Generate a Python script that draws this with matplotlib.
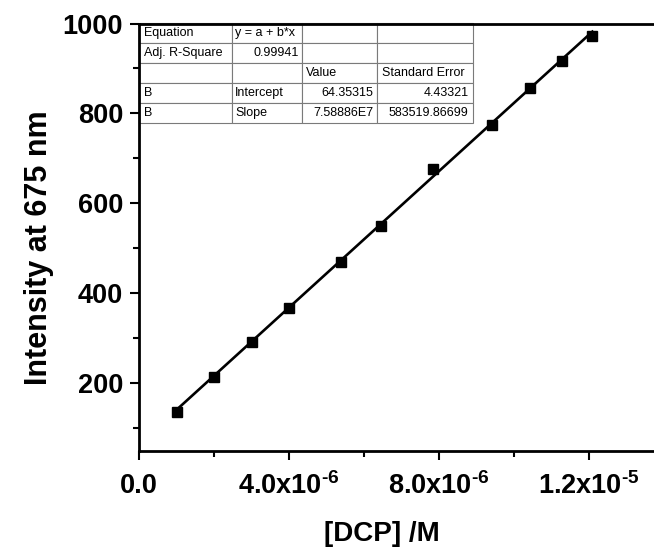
import matplotlib
matplotlib.use("Agg")
import matplotlib.pyplot as plt
from matplotlib.ticker import FixedLocator, MultipleLocator, FixedFormatter
import numpy as np

# DCP concentration (M) and emission intensity at 675 nm
conc = np.array([1.0, 2.0, 3.0, 4.0, 5.39, 6.45, 7.85, 9.42, 10.43, 11.27, 12.09]) * 1e-6
intensity = np.array([135.6, 214.0, 290.4, 366.0, 468.9, 550.4, 676.0, 775.0,
                      856.0, 917.0, 971.8])

# linear fit results as reported
intercept = 64.35315
slope = 7.58886e7

xticks = [0.0, 4.0e-6, 8.0e-6, 1.2e-5]
xticklabels = ["0.0", r"4.0x10$^{\text{-6}}$", r"8.0x10$^{\text{-6}}$",
               r"1.2x10$^{\text{-5}}$"]
yticks = [200, 400, 600, 800, 1000]

fit_table = [
    ["Equation", "y = a + b*x", "", ""],
    ["Adj. R-Square", "0.99941", "", ""],
    ["", "", "Value", "Standard Error"],
    ["B", "Intercept", "64.35315", "4.43321"],
    ["B", "Slope", "7.58886E7", "583519.86699"],
]
# alignment per cell: l = left, r = right
fit_align = [
    "llll",
    "lrll",
    "llll",
    "llrr",
    "llrr",
]

plt.rcParams["font.family"] = ["Liberation Sans", "DejaVu Sans"]
plt.rcParams["mathtext.fontset"] = "custom"
plt.rcParams["mathtext.rm"] = "Liberation Sans:bold"
plt.rcParams["mathtext.bf"] = "Liberation Sans:bold"

W, H = 654, 560
fig = plt.figure(figsize=(W / 100, H / 100), dpi=100)
ax_l, ax_r, ax_t, ax_b = 139, 665, 23.5, 451
ax = fig.add_axes([ax_l / W, 1 - ax_b / H, (ax_r - ax_l) / W, (ax_b - ax_t) / H])

xfit = np.array([conc.min(), conc.max()])
ax.plot(xfit, intercept + slope * xfit, color="black", lw=1.9, zorder=2)
ax.plot(conc, intensity, "s", color="black", ms=6.8, zorder=3, clip_on=False)

ax.set_xlim(0, (ax_r - ax_l) / 37.5 * 1e-6)
ax.set_ylim(48.7, 1000)

ax.xaxis.set_major_locator(FixedLocator(xticks))
ax.xaxis.set_major_formatter(FixedFormatter(xticklabels))
ax.xaxis.set_minor_locator(MultipleLocator(2e-6))
ax.yaxis.set_major_locator(FixedLocator(yticks))
ax.yaxis.set_minor_locator(MultipleLocator(100))

for side in ("left", "bottom", "top"):
    ax.spines[side].set_linewidth(2.0)
    ax.spines[side].set_zorder(5)
ax.spines["right"].set_visible(False)
ax.tick_params(which="major", direction="out", length=6.5, width=1.5,
               labelsize=19.5, pad=5)
ax.tick_params(which="minor", direction="out", length=4, width=1.5)
ax.tick_params(axis="x", pad=9)
for lbl in ax.get_xticklabels() + ax.get_yticklabels():
    lbl.set_fontweight("bold")

fig.text(382 / W, 1 - 534 / H, "[DCP] /M", fontsize=20, fontweight="bold",
         ha="center", va="center")
fig.text(39 / W, 1 - 248 / H, "Intensity at 675 nm", fontsize=22,
         fontweight="bold", rotation=90, ha="center", va="center")

# fit summary table in the upper left corner
col_px = [92.4, 70.6, 75.0, 96.0]
tab_left, tab_top, tab_bottom = 139.3, 23.5, 123.3
x0 = (tab_left - ax_l) / (ax_r - ax_l)
w_tot = sum(col_px) / (ax_r - ax_l)
y0 = (ax_b - tab_bottom) / (ax_b - ax_t)
h_tot = (tab_bottom - tab_top) / (ax_b - ax_t)
tab = ax.table(cellText=fit_table, bbox=[x0, y0, w_tot, h_tot],
               colWidths=[c / sum(col_px) for c in col_px], zorder=1.5)
tab.auto_set_font_size(False)
for (r, c), cell in tab.get_celld().items():
    cell.set_edgecolor("#7a7a7a")
    cell.set_linewidth(0.8)
    cell.set_facecolor("white")
    cell.PAD = 0.05
    txt = cell.get_text()
    txt.set_fontsize(9)
    txt.set_ha("left" if fit_align[r][c] == "l" else "right")

fig.savefig("out.png", dpi=100)
